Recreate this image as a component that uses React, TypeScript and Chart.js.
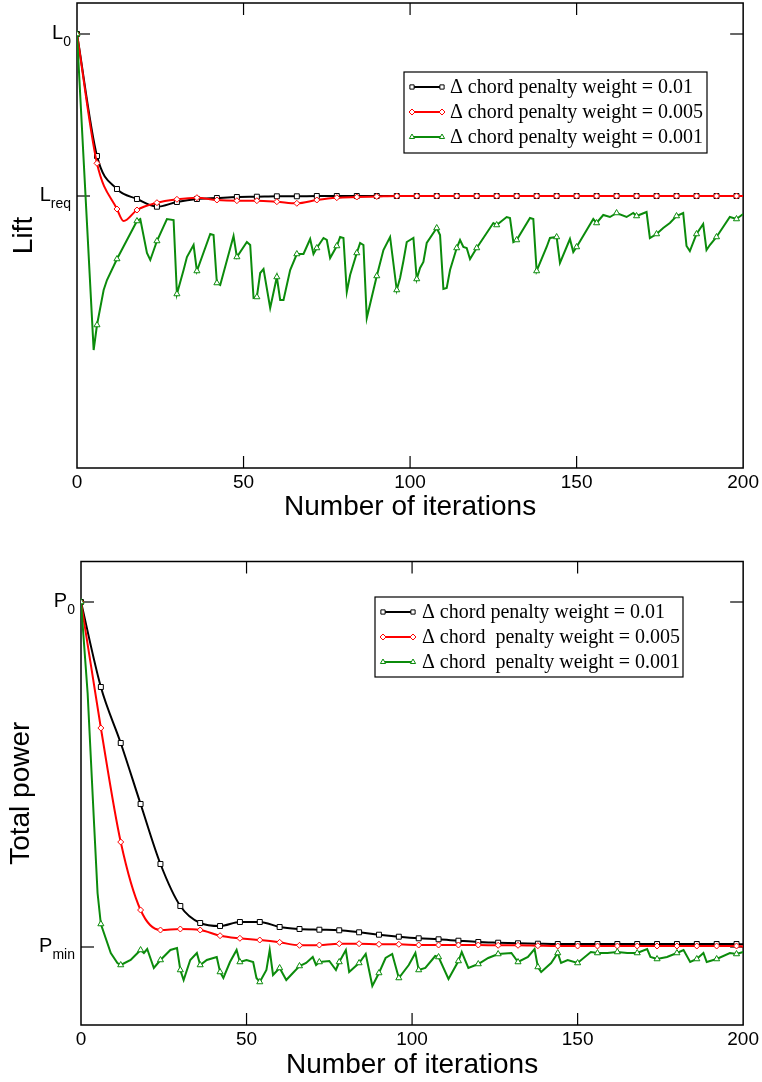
import React, { useEffect, useRef } from 'react';
import { Chart, registerables } from 'chart.js';

Chart.register(...registerables);

// ------------------------------------------------------------------
// Data
// x: iteration number; y: arbitrary units (L_req = 0, L_0 = 162 ; P_min = 0, P_0 = 345)
// ------------------------------------------------------------------
const iterMin = 0;
const iterMax = 200;
const iterTickStep = 50;
const markerEvery = 6;

const legendLabelsLift = [
  'Δ chord penalty weight = 0.01',
  'Δ chord penalty weight = 0.005',
  'Δ chord penalty weight = 0.001',
];
const legendLabelsPower = [
  'Δ chord penalty weight = 0.01',
  'Δ chord  penalty weight = 0.005',
  'Δ chord  penalty weight = 0.001',
];

const liftTickValues = [162, 0];
const liftTickMain = ['L', 'L'];
const liftTickSub = ['0', 'req'];

const powerTickValues = [345, 0];
const powerTickMain = ['P', 'P'];
const powerTickSub = ['0', 'min'];

// Lift, weight 0.01
const liftBlackX = [0, 6, 12, 18, 24, 30, 36, 42, 48, 54, 60, 66, 72, 78, 84, 90, 96, 102, 108, 114, 120, 126, 132, 138, 144, 150, 156, 162, 168, 174, 180, 186, 192, 198, 200];
const liftBlackY = [162, 40, 7, -3, -10.7, -6, -3, -2, -1, -0.7, -0.3, -0.3, 0, 0, 0, 0, 0, 0, 0, 0, 0, 0, 0, 0, 0, 0, 0, 0, 0, 0, 0, 0, 0, 0, 0];

// Lift, weight 0.005
const liftRedX = [0, 6, 12, 14, 18, 24, 30, 36, 42, 48, 54, 60, 66, 72, 78, 84, 90, 96, 102, 108, 114, 120, 126, 132, 138, 144, 150, 156, 162, 168, 174, 180, 186, 192, 198, 200];
const liftRedY = [162, 32.7, -13, -25, -14, -6.7, -3.3, -1.7, -4, -4.7, -4.7, -5.7, -7.3, -4, -1.7, -1, -0.5, 0, 0, 0, 0, 0, 0, 0, 0, 0, 0, 0, 0, 0, 0, 0, 0, 0, 0, 0];

// Lift, weight 0.001
const liftGreenX = [0, 5, 6, 8, 9, 12, 18, 19, 21, 22, 24, 27, 29, 30, 32, 33, 35, 36, 40, 41, 42, 43, 47, 48, 51, 52, 53, 54, 55, 56, 58, 60, 61, 62, 64, 66, 68, 70, 71, 72, 74, 75, 76, 78, 79, 80, 81, 82, 84, 85, 86, 87, 90, 92, 94, 96, 97, 98, 99, 101, 102, 103, 104, 105, 108, 109, 110, 111, 112, 114, 115, 116, 117, 118, 120, 125, 126, 129, 130, 131, 132, 136, 137, 138, 141, 142, 144, 145, 148, 149, 150, 155, 156, 158, 160, 162, 165, 167, 168, 171, 172, 174, 176, 178, 180, 182, 183, 184, 186, 188, 189, 190, 192, 196, 198, 200];
const liftGreenY = [162, -154, -129, -94, -84, -63, -25, -23, -57, -64, -45, -23, -24, -98, -74, -61, -49, -75, -38, -39, -87, -89, -40, -61, -46, -49, -102, -101, -77, -73, -112, -81, -104, -104, -74, -58, -58, -43, -58, -52, -42, -44, -62, -50, -41, -42, -96, -79, -57, -47, -49, -122, -80, -54, -41, -94, -82, -65, -46, -42, -83, -72, -66, -47, -32, -39, -93, -92, -74, -52, -44, -51, -52, -63, -52, -27, -29, -21, -22, -46, -44, -22, -23, -75, -51, -42, -41, -67, -43, -56, -51, -23, -27, -19, -21, -17, -21, -17, -20, -16, -42, -38, -32, -27, -20, -17, -50, -55, -38, -28, -54, -49, -41, -21, -23, -18];

// Power, weight 0.01
const powerBlackX = [0, 6, 12, 18, 24, 30, 36, 42, 48, 54, 60, 66, 72, 78, 84, 90, 96, 102, 108, 114, 120, 126, 132, 138, 144, 150, 156, 162, 168, 174, 180, 186, 192, 198, 200];
const powerBlackY = [345, 260, 204, 143, 83, 41, 24, 21, 25, 25, 20, 18, 17.3, 16.7, 14.7, 12.3, 10.3, 8.7, 7.7, 6.3, 5, 4.3, 3.7, 3.3, 3, 3, 3, 3, 3, 3, 3, 3, 3, 3, 2.7];

// Power, weight 0.005
const powerRedX = [0, 6, 12, 18, 24, 30, 36, 42, 48, 54, 60, 66, 72, 78, 84, 90, 96, 102, 108, 114, 120, 126, 132, 138, 144, 150, 156, 162, 168, 174, 180, 186, 192, 198, 200];
const powerRedY = [345, 219, 105, 37, 17, 18, 17, 11.3, 8.7, 7, 4.7, 1.7, 2, 3.3, 3.3, 2.7, 2.7, 2, 2, 2, 2, 1.7, 1.7, 1.3, 1, 1, 1, 1, 1, 1, 1, 1, 1, 1, 0.5];

// Power, weight 0.001
const powerGreenX = [0, 2, 4, 5, 6, 9, 11, 12, 15, 18, 19, 20, 22, 24, 27, 29, 30, 31, 33, 35, 36, 38, 40, 41, 42, 43, 45, 47, 48, 50, 52, 53, 54, 56, 57, 58, 60, 62, 64, 66, 68, 70, 71, 72, 75, 77, 78, 80, 81, 84, 86, 88, 90, 92, 94, 96, 99, 101, 102, 104, 107, 108, 111, 114, 115, 117, 120, 123, 126, 130, 132, 135, 137, 138, 139, 142, 144, 145, 147, 150, 154, 156, 159, 162, 165, 168, 171, 172, 174, 177, 180, 182, 184, 186, 188, 189, 192, 196, 198, 200];
const powerGreenY = [345, 254, 120, 54, 23, -6, -16, -18, -13, -3, -6, -2, -21, -13, -3, -1, -23, -33, -13, -6, -18, -13, -11, -10, -25, -31, -15, -3, -15, -13, -15, -31, -35, -23, -3, -28, -21, -33, -26, -19, -16, -10, -18, -15, -14, -23, -15, -3, -25, -16, -7, -39, -26, -11, -7, -31, -18, -6, -23, -21, -9, -10, -32, -14, -5, -21, -17, -11, -7, -6, -15, -10, -2, -20, -25, -16, -6, -16, -13, -16, -5, -6, -6, -5, -6, -6, -2, -10, -12, -10, -6, -3, -15, -12, -6, -15, -12, -6, -7, -5];

// ------------------------------------------------------------------
// Styling
// ------------------------------------------------------------------
const SANS = "'Liberation Sans', Arial, Helvetica, sans-serif";
const SERIF = "'Liberation Serif', 'Times New Roman', serif";
const BLACK = '#000000';
const RED = '#ff0000';
const GREEN = '#0b8b0b';

Chart.defaults.font.family = SANS;
Chart.defaults.color = '#000';

type Series = {
  xs: number[];
  ys: number[];
  color: string;
  style: string;
  radius: number;
  order: number;
  smooth: boolean;
};

function drawMarker(ctx: CanvasRenderingContext2D, style: string, x: number, y: number, r: number, color: string) {
  ctx.beginPath();
  if (style === 'rect') {
    const s = r * Math.SQRT1_2;
    ctx.rect(x - s, y - s, 2 * s, 2 * s);
  } else if (style === 'rectRot') {
    ctx.moveTo(x, y - r);
    ctx.lineTo(x + r, y);
    ctx.lineTo(x, y + r);
    ctx.lineTo(x - r, y);
    ctx.closePath();
  } else {
    let a = 0;
    ctx.moveTo(x + Math.sin(a) * r, y - Math.cos(a) * r);
    a += (2 * Math.PI) / 3;
    ctx.lineTo(x + Math.sin(a) * r, y - Math.cos(a) * r);
    a += (2 * Math.PI) / 3;
    ctx.lineTo(x + Math.sin(a) * r, y - Math.cos(a) * r);
    ctx.closePath();
  }
  ctx.fillStyle = '#fff';
  ctx.fill();
  ctx.lineWidth = 1;
  ctx.strokeStyle = color;
  ctx.stroke();
}

type PanelCfg = {
  width: number;
  height: number;
  top: number;
  area: { left: number; top: number; right: number; bottom: number };
  yMin: number;
  yMax: number;
  yTitle: string;
  yTitlePad: number;
  xTitlePad: number;
  tickValues: number[];
  tickMain: string[];
  tickSub: string[];
  series: Series[];
  legendLabels: string[];
  legendBox: { left: number; top: number; width: number; height: number; lineX1: number; lineX2: number; textX: number };
};

function Panel({ cfg }: { cfg: PanelCfg }) {
  const ref = useRef<HTMLCanvasElement | null>(null);

  useEffect(() => {
    const canvas = ref.current;
    if (!canvas) return;

    const framePlugin = {
      id: 'frameTicks',
      beforeDatasetsDraw(chart: any) {
        const { ctx, chartArea: a, scales } = chart;
        ctx.save();
        ctx.strokeStyle = '#000';
        ctx.lineWidth = 1.5;
        ctx.strokeRect(a.left, a.top, a.right - a.left, a.bottom - a.top);
        ctx.lineWidth = 1.2;
        const line = (x1: number, y1: number, x2: number, y2: number) => {
          ctx.beginPath();
          ctx.moveTo(x1, y1);
          ctx.lineTo(x2, y2);
          ctx.stroke();
        };
        scales.x.ticks.forEach((t: any) => {
          if (t.value === iterMin || t.value === iterMax) return;
          const px = scales.x.getPixelForValue(t.value);
          line(px, a.bottom, px, a.bottom - 12);
          line(px, a.top, px, a.top + 12);
        });
        cfg.tickValues.forEach((v, i) => {
          const py = scales.y.getPixelForValue(v);
          line(a.left, py, a.left + 13, py);
          line(a.right, py, a.right - 13, py);
          // label with subscript
          ctx.fillStyle = '#000';
          ctx.textBaseline = 'alphabetic';
          ctx.textAlign = 'left';
          ctx.font = `20px ${SANS}`;
          const mw = ctx.measureText(cfg.tickMain[i]).width;
          ctx.font = `14px ${SANS}`;
          const sw = ctx.measureText(cfg.tickSub[i]).width;
          const startX = a.left - 6 - sw - mw;
          ctx.font = `20px ${SANS}`;
          ctx.fillText(cfg.tickMain[i], startX, py + 5);
          ctx.font = `14px ${SANS}`;
          ctx.fillText(cfg.tickSub[i], startX + mw, py + 12);
        });
        ctx.restore();
      },
    };

    const legendPlugin = {
      id: 'boxLegend',
      afterDraw(chart: any) {
        const { ctx } = chart;
        const b = cfg.legendBox;
        ctx.save();
        ctx.fillStyle = '#fff';
        ctx.fillRect(b.left, b.top, b.width, b.height);
        ctx.strokeStyle = '#000';
        ctx.lineWidth = 1.2;
        ctx.strokeRect(b.left, b.top, b.width, b.height);
        cfg.series.forEach((s, i) => {
          const y = b.top + 15 + i * 25;
          ctx.strokeStyle = s.color;
          ctx.lineWidth = 2;
          ctx.beginPath();
          ctx.moveTo(b.lineX1, y);
          ctx.lineTo(b.lineX2, y);
          ctx.stroke();
          drawMarker(ctx, s.style, b.lineX1, y, 3, s.color);
          drawMarker(ctx, s.style, b.lineX2, y, 3, s.color);
          ctx.fillStyle = '#000';
          ctx.font = `20px ${SERIF}`;
          ctx.textAlign = 'left';
          ctx.textBaseline = 'middle';
          ctx.fillText(cfg.legendLabels[i], b.textX, y + 1);
        });
        ctx.restore();
      },
    };

    const datasets = cfg.series.map((s) => ({
      data: s.xs.map((x, i) => ({ x, y: s.ys[i] })),
      borderColor: s.color,
      backgroundColor: s.color,
      borderWidth: 2,
      pointStyle: s.style,
      pointRadius: (c: any) => (c.raw && c.raw.x % markerEvery === 0 ? s.radius : 0),
      pointHoverRadius: 0,
      pointBackgroundColor: '#fff',
      pointBorderColor: s.color,
      pointBorderWidth: 1,
      cubicInterpolationMode: s.smooth ? 'monotone' : 'default',
      tension: 0,
      fill: false,
      order: s.order,
    }));

    const chart = new Chart(canvas, {
      type: 'line',
      data: { datasets } as any,
      options: {
        responsive: false,
        animation: false,
        events: [],
        layout: {
          autoPadding: false,
          padding: {
            left: 0,
            top: cfg.area.top,
            right: cfg.width - cfg.area.right,
            bottom: 0,
          },
        },
        plugins: {
          legend: { display: false },
          tooltip: { enabled: false },
        },
        scales: {
          x: {
            type: 'linear',
            min: iterMin,
            max: iterMax,
            ticks: {
              stepSize: iterTickStep,
              font: { size: 19 },
              color: '#000',
              padding: 3,
              maxRotation: 0,
              autoSkip: false,
            },
            grid: { display: false, drawTicks: false },
            border: { display: false },
            title: {
              display: true,
              text: 'Number of iterations',
              color: '#000',
              font: { size: 28 },
              padding: { top: 0, bottom: cfg.xTitlePad },
            },
            afterFit: (s: any) => {
              s.height = cfg.height - cfg.area.bottom;
            },
          },
          y: {
            type: 'linear',
            min: cfg.yMin,
            max: cfg.yMax,
            ticks: { display: false },
            grid: { display: false, drawTicks: false },
            border: { display: false },
            title: {
              display: true,
              text: cfg.yTitle,
              color: '#000',
              font: { size: 28 },
              padding: { top: cfg.yTitlePad, bottom: 0 },
            },
            afterFit: (s: any) => {
              s.width = cfg.area.left;
            },
          },
        },
      } as any,
      plugins: [framePlugin, legendPlugin],
    });

    return () => chart.destroy();
  }, [cfg]);

  return (
    <canvas
      ref={ref}
      width={cfg.width}
      height={cfg.height}
      style={{ position: 'absolute', left: 0, top: cfg.top, width: cfg.width, height: cfg.height }}
    />
  );
}

const liftPanel: PanelCfg = {
  width: 762,
  height: 540,
  top: 0,
  area: { left: 77, top: 3, right: 744, bottom: 468 },
  yMin: -272,
  yMax: 193,
  yTitle: 'Lift',
  yTitlePad: 7,
  xTitlePad: 16,
  tickValues: liftTickValues,
  tickMain: liftTickMain,
  tickSub: liftTickSub,
  series: [
    { xs: liftBlackX, ys: liftBlackY, color: BLACK, style: 'rect', radius: 3.5, order: 2, smooth: true },
    { xs: liftRedX, ys: liftRedY, color: RED, style: 'rectRot', radius: 3, order: 1, smooth: true },
    { xs: liftGreenX, ys: liftGreenY, color: GREEN, style: 'triangle', radius: 3.5, order: 0, smooth: false },
  ],
  legendLabels: legendLabelsLift,
  legendBox: { left: 404, top: 72, width: 303, height: 81, lineX1: 412, lineX2: 442, textX: 450 },
};

const powerPanel: PanelCfg = {
  width: 762,
  height: 542,
  top: 540,
  area: { left: 81, top: 21.5, right: 747, bottom: 485 },
  yMin: -78,
  yMax: 385.5,
  yTitle: 'Total power',
  yTitlePad: 4,
  xTitlePad: 0,
  tickValues: powerTickValues,
  tickMain: powerTickMain,
  tickSub: powerTickSub,
  series: [
    { xs: powerBlackX, ys: powerBlackY, color: BLACK, style: 'rect', radius: 3.5, order: 2, smooth: true },
    { xs: powerRedX, ys: powerRedY, color: RED, style: 'rectRot', radius: 3, order: 1, smooth: true },
    { xs: powerGreenX, ys: powerGreenY, color: GREEN, style: 'triangle', radius: 3.5, order: 0, smooth: false },
  ],
  legendLabels: legendLabelsPower,
  legendBox: { left: 375, top: 57, width: 308, height: 80, lineX1: 383, lineX2: 413, textX: 422 },
};

export default function App() {
  return (
    <div style={{ position: 'absolute', left: 0, top: 0, width: 762, height: 1082, background: '#fff' }}>
      <Panel cfg={liftPanel} />
      <Panel cfg={powerPanel} />
    </div>
  );
}
